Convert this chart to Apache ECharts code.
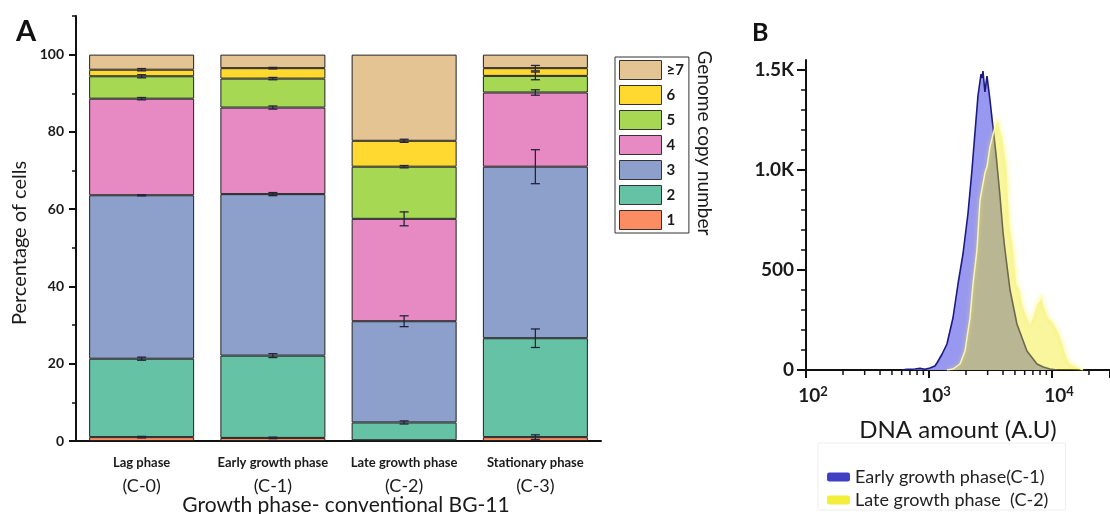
<!DOCTYPE html>
<html>
<head>
<meta charset="utf-8">
<script src="https://cdn.jsdelivr.net/npm/echarts@6/dist/echarts.min.js"></script>
<style>html,body{margin:0;padding:0;background:#fff}#c{width:1110px;height:514px}</style>
</head>
<body>
<div id="c"></div>
<script>
// ---------- Panel A data ----------
const categories = ['Lag phase', 'Early growth phase', 'Late growth phase', 'Stationary phase'];
const conditionCodes = ['(C-0)', '(C-1)', '(C-2)', '(C-3)'];
const copyNames = ['1', '2', '3', '4', '5', '6', '≥7'];
const copy1 = [1.0, 0.8, 0.2, 1.0];
const copy2 = [20.3, 21.3, 4.6, 25.6];
const copy3 = [42.3, 41.8, 26.2, 44.4];
const copy4 = [25.0, 22.4, 26.5, 19.2];
const copy5 = [5.8, 7.5, 13.5, 4.3];
const copy6 = [1.7, 2.7, 6.7, 2.0];
const copy7plus = [3.9, 3.5, 22.3, 3.5];
// error (±) at the top of segments 1..6
const err1 = [0.2, 0.2, 0.0, 0.6];
const err2 = [0.4, 0.5, 0.4, 2.4];
const err3 = [0.15, 0.4, 1.4, 4.4];
const err4 = [0.3, 0.4, 1.8, 0.7];
const err5 = [0.4, 0.3, 0.3, 1.0];
const err6 = [0.3, 0.2, 0.4, 0.7];
const yTicksA = [0, 20, 40, 60, 80, 100];
const yMinorTicksA = [10, 30, 50, 70, 90, 110];

// ---------- Panel B data ----------
const dnaEarly = [[600,0],[662,3],[769,5],[845,8],[927,4],[1019,10],[1118,20],[1161,35],[1280,80],[1400,130],[1567,260],[1722,430],[1890,580],[2074,780],[2237,1000],[2368,1190],[2502,1370],[2650,1480],[2700,1460],[2748,1495],[2852,1390],[2963,1470],[3134,1350],[3252,1260],[3508,1080],[3779,870],[3998,690],[4150,600],[4560,400],[5190,230],[6260,95],[7550,30],[8500,15],[9630,5],[11000,0]];
const dnaLate = [[1400,0],[1567,5],[1786,30],[1963,95],[2036,160],[2155,260],[2280,430],[2455,600],[2502,684],[2600,850],[2852,986],[2963,1016],[3134,1117],[3443,1217],[3573,1252],[3700,1230],[3779,1237],[3998,1152],[4306,1016],[4560,720],[4850,620],[5190,430],[5500,400],[5810,320],[6620,230],[7010,270],[7550,330],[8000,350],[8300,372],[8500,330],[8780,310],[9280,265],[10190,240],[11190,195],[12280,130],[13240,60],[14000,35],[15960,15],[17860,0]];
const yTicksB = [0, 500, 1000, 1500];
const yTickLabelsB = ['0', '500', '1.0K', '1.5K'];
const yMinorTicksB = [100,200,300,400,600,700,800,900,1100,1200,1300,1400];
const xTicksB = [100, 1000, 10000];
const xTickExponentsB = ['2', '3', '4'];
const xMinorTicksB = [200,300,400,500,600,700,800,900,2000,3000,4000,5000,6000,7000,8000,9000,20000];

const FONT = 'Lato, "DejaVu Sans", sans-serif';
const INK = '#1a1a1a';
const colorsA = ['#FC8D62', '#66C2A5', '#8DA0CB', '#E78AC3', '#A6D854', '#FFD92F', '#E5C494'];
const segValues = [copy1, copy2, copy3, copy4, copy5, copy6, copy7plus];
const segErrors = [err1, err2, err3, err4, err5, err6];

// cumulative tops for error bars
const errData = [];
segErrors.forEach((errs, s) => {
  categories.forEach((c, i) => {
    let top = 0;
    for (let k = 0; k <= s; k++) top += segValues[k][i];
    if (errs[i] > 0) errData.push([i, top, errs[i]]);
  });
});

const barSeries = copyNames.map((n, s) => ({
  type: 'bar', name: n, stack: 'total', xAxisIndex: 0, yAxisIndex: 0,
  data: segValues[s], barWidth: '80%',
  itemStyle: { color: colorsA[s], borderColor: '#222', borderWidth: 1 },
  silent: true, z: 2
}));

const chart = echarts.init(document.getElementById('c'), null, { renderer: 'canvas' });
chart.setOption({
  backgroundColor: '#fff',
  animation: false,
  textStyle: { fontFamily: FONT },
  title: [
    { text: 'A', left: 11, top: 12, textStyle: { fontSize: 29, fontWeight: 'bold', fontFamily: FONT, color: '#111' } },
    { text: 'B', left: 747, top: 15, textStyle: { fontSize: 25, fontWeight: 'bold', fontFamily: FONT, color: '#111' } }
  ],
  graphic: [
    {
      type: 'text', x: 704, y: 143, rotation: -Math.PI / 2,
      style: { text: 'Genome copy number', font: '19px ' + FONT, fill: INK, align: 'center', verticalAlign: 'middle' }
    },
    {
      type: 'text', x: 20, y: 243, rotation: Math.PI / 2,
      style: { text: 'Percentage of cells', font: '20px ' + FONT, fill: INK, align: 'center', verticalAlign: 'middle' }
    },
    {
      type: 'text', x: 346, y: 505,
      style: { text: 'Growth phase- conventional BG-11', font: '21px ' + FONT, fill: INK, align: 'center', verticalAlign: 'middle' }
    }
  ],
  legend: [
    {
      orient: 'vertical', left: 615, top: 57, itemWidth: 42, itemHeight: 19, itemGap: 5,
      padding: [3, 5, 3, 4], borderColor: '#333', borderWidth: 1, icon: 'rect', selectedMode: false,
      data: ['≥7', '6', '5', '4', '3', '2', '1'],
      itemStyle: { borderColor: '#333', borderWidth: 1 },
      textStyle: { fontSize: 15, fontWeight: 'bold', fontFamily: FONT, color: INK }
    },
    {
      orient: 'vertical', left: 818, top: 443, padding: [25, 17, 1, 9], itemWidth: 23, itemHeight: 9, itemGap: 5,
      icon: 'roundRect', selectedMode: false, borderColor: '#eeeeee', borderWidth: 1,
      data: [
        { name: 'Early growth phase(C-1)', itemStyle: { color: '#3f3fc4', borderWidth: 0 } },
        { name: 'Late growth phase  (C-2)', itemStyle: { color: '#f2ee3a', borderWidth: 0 } }
      ],
      textStyle: { fontSize: 18, fontFamily: FONT, color: '#222' }
    }
  ],
  grid: [
    { left: 76, right: 509, top: 16, bottom: 73, outerBoundsMode: 'none', containLabel: false },
    { left: 806, right: 0, top: 60, bottom: 144, outerBoundsMode: 'none', containLabel: false }
  ],
  xAxis: [
    {
      gridIndex: 0, type: 'category', data: categories, position: 'bottom',
      axisLine: { lineStyle: { color: '#111', width: 2 } },
      axisTick: { length: 5, lineStyle: { color: '#111', width: 2 } },
      axisLabel: {
        margin: 13, color: INK, interval: 0,
        formatter: (v, i) => '{a|' + v + '}\n{b|' + conditionCodes[i] + '}',
        rich: {
          a: { fontSize: 13, fontWeight: 'bold', fontFamily: FONT, color: INK, lineHeight: 17 },
          b: { fontSize: 18, fontFamily: FONT, color: INK, lineHeight: 31 }
        }
      }
    },
    {
      gridIndex: 0, type: 'category', data: categories, position: 'bottom',
      axisLine: { show: false },
      axisTick: { alignWithLabel: true, length: 9, lineStyle: { color: '#111', width: 2 } },
      axisLabel: { show: false }
    },
    {
      gridIndex: 1, type: 'log', logBase: 10, min: 100, max: 29650, position: 'bottom',
      axisLine: { lineStyle: { color: '#111', width: 2 } },
      axisTick: { length: 8, lineStyle: { color: '#111', width: 2 } },
      splitLine: { show: false },
      axisLabel: {
        margin: 15,
        formatter: (v) => {
          const i = xTicksB.findIndex(t => Math.abs(t - v) / t < 1e-6);
          return i < 0 ? '' : '{b|10}{s|' + xTickExponentsB[i] + '}';
        },
        rich: {
          b: { fontSize: 19, fontWeight: 'bold', fontFamily: FONT, color: INK },
          s: { fontSize: 13, fontWeight: 'bold', fontFamily: FONT, color: INK, padding: [0, 0, 8, 0] }
        },
        padding: [0, 0, 0, 14]
      },
      name: 'DNA amount (A.U)', nameLocation: 'middle', nameGap: 48,
      nameTextStyle: { fontSize: 24, fontFamily: FONT, color: INK }
    },
    {
      gridIndex: 1, type: 'log', logBase: 10, min: 100, max: 29650, position: 'top',
      axisLine: { lineStyle: { color: '#111', width: 1.5 } },
      axisTick: { show: false }, axisLabel: { show: false }, splitLine: { show: false }
    }
  ],
  yAxis: [
    {
      gridIndex: 0, type: 'value', min: 0, max: 110, position: 'left',
      axisLine: { show: true, lineStyle: { color: '#111', width: 2 } },
      axisTick: { show: true, length: 7, customValues: yTicksA, lineStyle: { color: '#111', width: 2 } },
      splitLine: { show: false },
      axisLabel: { customValues: yTicksA, margin: 12, fontSize: 14, fontWeight: 'bold', fontFamily: FONT, color: INK }
    },
    {
      gridIndex: 0, type: 'value', min: 0, max: 110, position: 'left',
      axisLine: { show: false },
      axisTick: { show: true, length: 4, customValues: yMinorTicksA, lineStyle: { color: '#111', width: 1.5 } },
      axisLabel: { show: false }, splitLine: { show: false }
    },
    {
      gridIndex: 1, type: 'value', min: 0, max: 1550, position: 'left',
      axisLine: { show: true, lineStyle: { color: '#111', width: 2 } },
      axisTick: { show: true, length: 9, customValues: yTicksB, lineStyle: { color: '#111', width: 2 } },
      splitLine: { show: false },
      axisLabel: {
        customValues: yTicksB, margin: 12, fontSize: 19, fontWeight: 'bold', fontFamily: FONT, color: INK,
        formatter: (v) => { const i = yTicksB.indexOf(v); return i < 0 ? '' : yTickLabelsB[i]; }
      }
    },
    {
      gridIndex: 1, type: 'value', min: 0, max: 1550, position: 'left',
      axisLine: { show: false },
      axisTick: { show: true, length: 5, customValues: yMinorTicksB, lineStyle: { color: '#111', width: 1.5 } },
      axisLabel: { show: false }, splitLine: { show: false }
    }
  ],
  series: barSeries.concat([
    {
      type: 'custom', name: 'errors', xAxisIndex: 0, yAxisIndex: 0, data: errData, z: 5, silent: true,
      encode: { x: 0, y: 1 },
      renderItem: (params, api) => {
        const x = api.value(0), y = api.value(1), e = api.value(2);
        const top = api.coord([x, y + e]);
        const bot = api.coord([x, y - e]);
        const hw = 4.5;
        const st = { stroke: '#23233a', lineWidth: 1.3 };
        return {
          type: 'group', children: [
            { type: 'line', shape: { x1: top[0], y1: top[1], x2: bot[0], y2: bot[1] }, style: st },
            { type: 'line', shape: { x1: top[0] - hw, y1: top[1], x2: top[0] + hw, y2: top[1] }, style: st },
            { type: 'line', shape: { x1: bot[0] - hw, y1: bot[1], x2: bot[0] + hw, y2: bot[1] }, style: st }
          ]
        };
      }
    },
    {
      type: 'custom', name: 'minorTicksB', xAxisIndex: 2, yAxisIndex: 2, silent: true, clip: false, z: 6,
      data: xMinorTicksB.map(v => [v, 0]),
      encode: { x: 0, y: 1 },
      renderItem: (params, api) => {
        const p = api.coord([api.value(0), 0]);
        return { type: 'line', shape: { x1: p[0], y1: p[1], x2: p[0], y2: p[1] + 5 }, style: { stroke: '#111', lineWidth: 1.5 } };
      }
    },
    {
      type: 'line', name: 'Early growth phase(C-1)', xAxisIndex: 2, yAxisIndex: 2, data: dnaEarly,
      showSymbol: false, symbol: 'none', silent: true,
      lineStyle: { color: '#1b1b7e', width: 1.6 },
      areaStyle: { color: '#9898f0', opacity: 1 },
      itemStyle: { color: '#3f3fc4' }, z: 2
    },
    {
      type: 'line', name: 'Late growth phase  (C-2)', xAxisIndex: 2, yAxisIndex: 2, data: dnaLate,
      showSymbol: false, symbol: 'none', silent: true,
      lineStyle: { color: 'rgba(255,252,195,0.9)', width: 1.5, shadowBlur: 4, shadowColor: 'rgba(245,240,80,0.8)' },
      areaStyle: { color: 'rgba(240,232,0,0.55)' },
      itemStyle: { color: '#f2ee3a' }, z: 3
    }
  ])
});
</script>
</body>
</html>
